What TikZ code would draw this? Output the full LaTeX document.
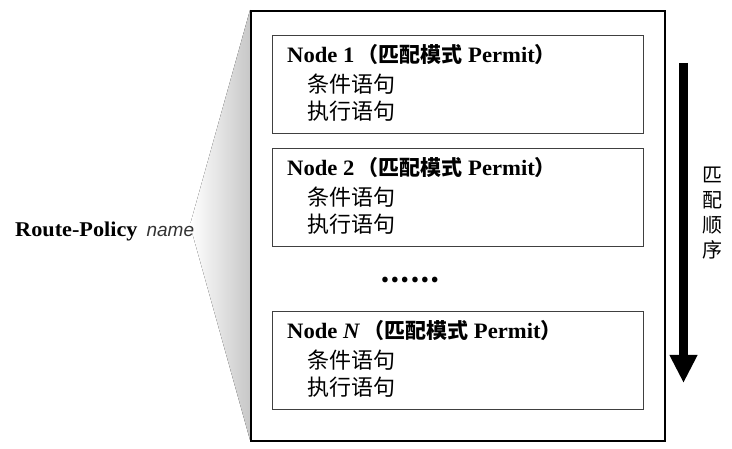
\documentclass[tikz,border=0pt]{standalone}
\usepackage{fontspec}
\setmainfont{Liberation Serif}
\newfontfamily\wideserif[FakeStretch=1.03]{Liberation Serif}
\newfontfamily\cjk{Noto Sans CJK SC}
\newfontfamily\sansname{Liberation Sans}
\usetikzlibrary{arrows.meta,positioning}

\begin{document}
\begin{tikzpicture}[x=1pt,y=-1pt,>=Triangle,
  nodebox/.style = {draw=black!75, line width=1.2pt, minimum width=371pt, minimum height=98pt, anchor=north west, inner sep=0pt},
  title/.style = {anchor=base west, inner sep=0pt, font=\fontsize{22}{22}\selectfont\wideserif\bfseries},
  stmt/.style = {anchor=base west, inner sep=0pt, font=\fontsize{22}{22}\selectfont\cjk},]
\useasboundingbox (0,0) rectangle (732,449);
\fill[left color=white, right color=black!22] (250,10) -- (190,225) -- (250,440) -- cycle;
\node (policy) at (250,10)[draw, line width=2pt, minimum width=414pt, minimum height=430pt, anchor=north west] {};
\node (policyname) at (15,237)[anchor=base west, inner sep=0pt] {\fontsize{21}{21}\selectfont\addfontfeature{FakeStretch=1.06}\bfseries Route-Policy\hspace{9pt}{\fontsize{19}{19}\selectfont\sansname\mdseries\itshape\color{black!80}name}};

\foreach \n/\top/\lab in {1/35/1, 2/148/2, N/311/\textit{N}}{
  \node (box\n) at (272,\top)[nodebox] {};
  \node (title\n) at (287,\top+28)[title] {Node \lab\hspace{3pt}{\fontsize{21}{21}\selectfont\cjk（匹配模式} Permit{\fontsize{21}{21}\selectfont\cjk ）}};
  \node (cond\n) at (307,\top+58)[stmt] {条件语句};
  \node (exec\n) at (307,\top+85)[stmt] {执行语句};
}
\node (dots) at (410,280)[inner sep=0pt, font=\fontsize{26}{26}\selectfont\cjk\bfseries] {……};

\coordinate (ordertop) at (683.5,63);
\coordinate (orderend) at (683.5,383);
\draw[line width=9pt, -{Triangle[length=28pt, width=26pt]}] (ordertop)--(orderend);
\node (order) at (712,213)[inner sep=0pt, align=center, font=\fontsize{20}{25}\selectfont\cjk] {匹\\配\\顺\\序};
\end{tikzpicture}
\end{document}
